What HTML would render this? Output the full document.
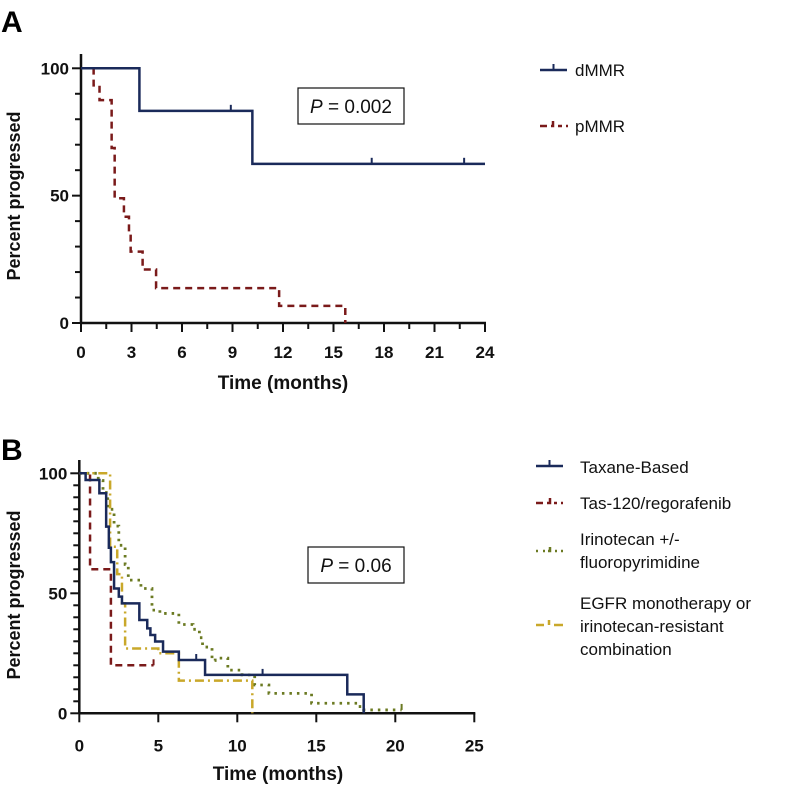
<!DOCTYPE html>
<html><head><meta charset="utf-8"><style>
body{margin:0;background:#fff}
svg text{font-family:"Liberation Sans",Arial,sans-serif}
</style></head><body>
<svg id="chart" width="797" height="787" viewBox="0 0 797 787" xmlns="http://www.w3.org/2000/svg">
<text x="1" y="32" font-size="30" font-weight="bold">A</text>
<text x="1" y="460" font-size="30" font-weight="bold">B</text>
<g id="pa"></g>
<g id="pb"></g>
</svg>
<script>
// Panel A data
const aXTicks=[0,3,6,9,12,15,18,21,24];
const aYTicks=[0,50,100];
const dmmrT=[0,3.47,10.18,24];
const dmmrV=[100,83.3,62.5,62.5];
const dmmrCens=[8.9,17.27,22.76];
const pmmrT=[0,0.75,1.1,1.82,2.0,2.55,2.85,2.95,3.66,4.46,11.77,15.7];
const pmmrV=[100,93.3,87.5,68.7,49,41.7,35,28,21,13.7,6.7,0];
// Panel B data
const bXTicks=[0,5,10,15,20,25];
const bYTicks=[0,50,100];
const taxT=[0,0.4,1.27,1.7,1.87,2.0,2.2,2.5,2.7,3.6,3.8,4.3,4.5,4.8,5.3,6.3,7.96,16.96,18];
const taxV=[100,97.2,91.7,77.8,69,63,52,48.6,45.8,45.8,38.9,35.4,32.6,29.9,25.7,22.2,16,7.9,0];
const taxCens=[7.4,11.6];
const tasT=[0,0.68,2.0,4.7];
const tasV=[100,60,20,20];
const iriT=[0,1.0,1.2,1.5,1.8,2.2,2.5,2.9,3.1,3.9,4.6,5.1,5.7,6.3,7.2,7.6,7.8,8.4,8.6,9.4,10.3,11.1,12,14.7,17.6,18,20.4];
const iriV=[100,100,97,92,85,78,70,62,55.5,52,43,41.6,41.6,37,35,31.5,27.6,22,23,18,16,11.8,8.3,4.2,2.8,1.4,1.4];
const egfT=[0,1.0,1.95,2.4,2.7,2.9,5.0,6.1,6.3,10.95];
const egfV=[100,100,69.4,58,45.8,27,25,25,13.6,0];

const NS="http://www.w3.org/2000/svg";
function mk(tag,attrs,parent){const e=document.createElementNS(NS,tag);for(const k in attrs)e.setAttribute(k,attrs[k]);parent.appendChild(e);return e;}
function stepPath(T,V,sx,sy){let d="M"+sx(T[0])+","+sy(V[0]);for(let i=1;i<T.length;i++){d+=" H"+sx(T[i])+" V"+sy(V[i]);}return d;}
function valAt(T,V,t){let v=V[0];for(let i=0;i<T.length;i++){if(T[i]<=t)v=V[i];}return v;}
function axes(g,x0,x1,y0,y1,xmax,xt,yt,minorX,minorY,top,lblOff){
  const sx=t=>x0+(x1-x0)*t/xmax, sy=v=>y0-(y0-y1)*v/100;
  let a=mk('line',{x1:x0,y1:top,x2:x0,y2:y0,stroke:'#111','stroke-width':2.5},g);
  let b=mk('line',{x1:x0,y1:y0,x2:x1+1,y2:y0,stroke:'#111','stroke-width':2.5},g);
  for(let v=0;v<=100;v+=minorY){const big=yt.includes(v);mk('line',{x1:x0-(big?9:6),y1:sy(v),x2:x0,y2:sy(v),stroke:'#111','stroke-width':2},g);}
  yt.forEach(v=>{const t=mk('text',{x:x0-12,y:sy(v)+6,'text-anchor':'end','font-size':17,'font-weight':'bold',fill:'#111'},g);t.textContent=v;});
  for(let v=0;v<=xmax+1e-6;v+=minorX){const big=xt.includes(Math.round(v*10)/10);mk('line',{x1:sx(v),y1:y0,x2:sx(v),y2:y0+(big?9:6),stroke:'#111','stroke-width':2},g);}
  xt.forEach(v=>{const t=mk('text',{x:sx(v),y:y0+lblOff,'text-anchor':'middle','font-size':17,'font-weight':'bold',fill:'#111'},g);t.textContent=v;});
  return [sx,sy];
}
function series(g,T,V,sx,sy,color,dash,name,cens,w){
  const p=mk('path',{d:stepPath(T,V,sx,sy),fill:'none',stroke:color,'stroke-width':w||2.5,'stroke-dasharray':dash},g);
  
  (cens||[]).forEach(c=>{const y=sy(valAt(T,V,c));const l=mk('line',{x1:sx(c),y1:y,x2:sx(c),y2:y-6,stroke:color,'stroke-width':2},g);});
}
function txt(g,x,y,s,size,name,extra){const t=mk('text',Object.assign({x:x,y:y,'font-size':size,fill:'#111'},extra||{}),g);t.textContent=s;return t;}

// Panel A
const ga=document.getElementById('pa');
const [ax,ay]=axes(ga,81,485,323,68.3,24,aXTicks,aYTicks,1.5,10,54,35);
series(ga,pmmrT,pmmrV,ax,ay,'#7a1a1a','7,5','pmmr-curve');
series(ga,dmmrT,dmmrV,ax,ay,'#1a2a5a','','dmmr-curve',dmmrCens);
txt(ga,283,389,'Time (months)',19,'x-axis-title',{'text-anchor':'middle','font-weight':'bold'});
txt(ga,0,0,'Percent progressed',18,'y-axis-title',{'text-anchor':'middle','font-weight':'bold',transform:'translate(20,196) rotate(-90)'});
let bx=mk('rect',{x:298,y:88,width:106,height:36,fill:'#fff',stroke:'#111','stroke-width':1.2},ga);
let pt=txt(ga,351,113,'',19,'p-value-a',{'text-anchor':'middle'});pt.innerHTML='<tspan font-style="italic">P</tspan> = 0.002';
mk('line',{x1:540,y1:70,x2:567,y2:70,stroke:'#1a2a5a','stroke-width':2.5},ga);mk('line',{x1:553.5,y1:70,x2:553.5,y2:64,stroke:'#1a2a5a','stroke-width':2},ga);
txt(ga,575,76,'dMMR',17,'legend-dmmr');
mk('path',{d:'M540,126 H547 M551,126 H553 V121 M558,126 H562 M566,126 H568',stroke:'#7a1a1a','stroke-width':2.5,fill:'none'},ga);
txt(ga,575,132,'pMMR',17,'legend-pmmr');

// Panel B
const gb=document.getElementById('pb');
const [bxs,bys]=axes(gb,79.3,474.3,713.3,473.3,25,bXTicks,bYTicks,5,5,460,38);
series(gb,iriT,iriV,bxs,bys,'#6b7a22','2.5,5','irinotecan-curve',[20.4],2.8);
series(gb,egfT,egfV,bxs,bys,'#c9a82a','9,4,2,4','egfr-curve');
series(gb,tasT,tasV,bxs,bys,'#7a1a1a','7,5','tas120-curve',[4.7]);
series(gb,taxT,taxV,bxs,bys,'#1a2a5a','','taxane-curve',taxCens);
txt(gb,278,780,'Time (months)',19,'x-axis-title-b',{'text-anchor':'middle','font-weight':'bold'});
txt(gb,0,0,'Percent progressed',18,'y-axis-title-b',{'text-anchor':'middle','font-weight':'bold',transform:'translate(20,595) rotate(-90)'});
let bx2=mk('rect',{x:308,y:547,width:96,height:36,fill:'#fff',stroke:'#111','stroke-width':1.2},gb);
let pt2=txt(gb,356,572,'',19,'p-value-b',{'text-anchor':'middle'});pt2.innerHTML='<tspan font-style="italic">P</tspan> = 0.06';
mk('line',{x1:536,y1:466,x2:563,y2:466,stroke:'#1a2a5a','stroke-width':2.5},gb);mk('line',{x1:549.5,y1:466,x2:549.5,y2:460,stroke:'#1a2a5a','stroke-width':2},gb);
txt(gb,580,473,'Taxane-Based',17,'legend-taxane');
mk('path',{d:'M536,503 H543 M547,503 H550 V498 M554,503 H557 M561,503 H563',stroke:'#7a1a1a','stroke-width':2.5,fill:'none'},gb);
txt(gb,580,509,'Tas-120/regorafenib',17,'legend-tas120');
mk('path',{d:'M536,551 H538 M543,551 H545 M548,551 H550 V547 M555,551 H557 M561,551 H563',stroke:'#6b7a22','stroke-width':2.5,fill:'none'},gb);
txt(gb,580,545,'Irinotecan +/-',17,'legend-irinotecan');
txt(gb,580,568,'fluoropyrimidine',17,'legend-irinotecan-line2');
mk('path',{d:'M536,625 H544 M549,625 V620 M554,625 H563',stroke:'#c9a82a','stroke-width':2.5,fill:'none'},gb);
txt(gb,580,609,'EGFR monotherapy or',17,'legend-egfr');
txt(gb,580,632,'irinotecan-resistant',17,'legend-egfr-line2');
txt(gb,580,655,'combination',17,'legend-egfr-line3');
</script>
</body></html>
